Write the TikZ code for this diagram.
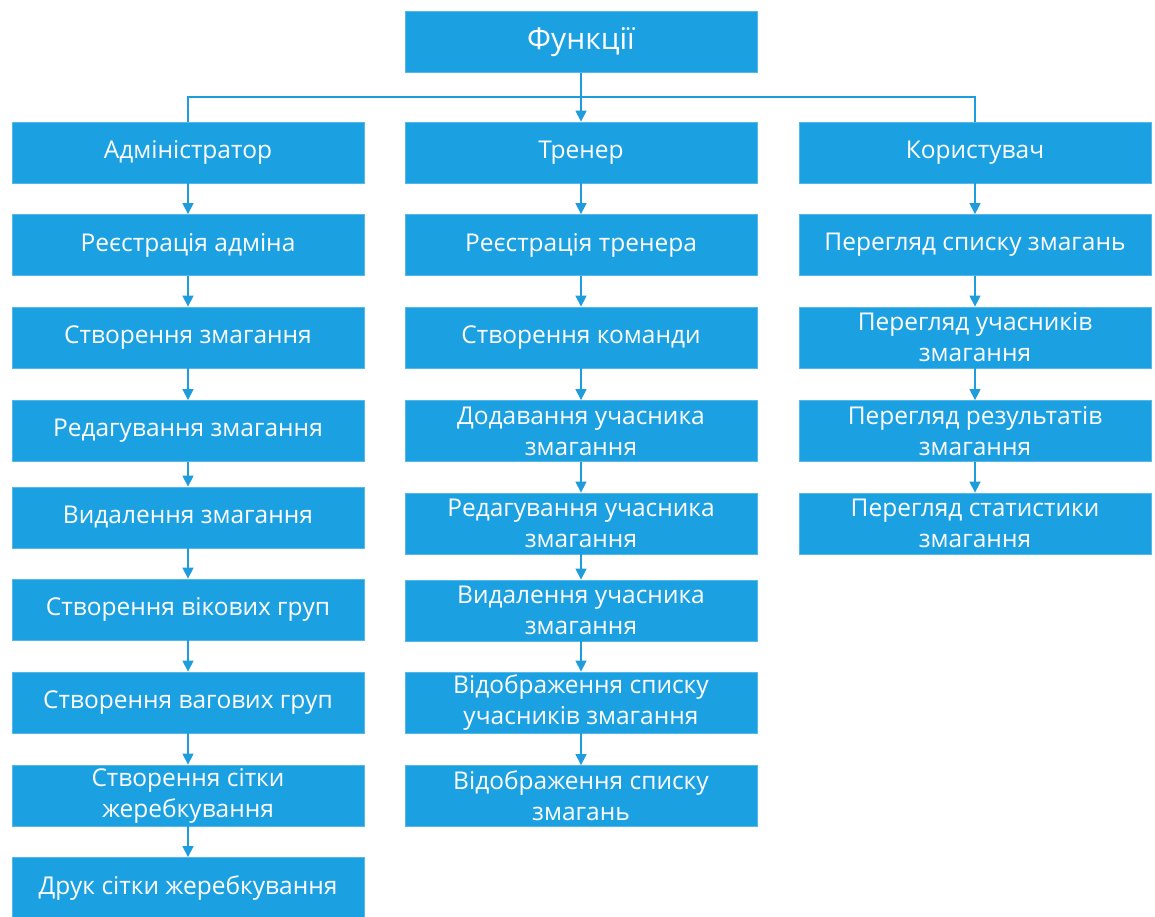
\documentclass[tikz,border=0pt]{standalone}
\usepackage{fontspec}
\setmainfont{Open Sans}
\usetikzlibrary{arrows.meta}
\definecolor{boxblue}{HTML}{1BA1E2}
\definecolor{lineblue}{HTML}{1E9CDC}
\begin{document}
\begin{tikzpicture}[x=1pt,y=-1pt,
  box/.style={fill=boxblue, draw=boxblue!75!white, line width=0.8pt,
    minimum width=352pt, minimum height=61pt, inner sep=0pt,
    text=white, align=center, font=\fontsize{24.5}{31}\selectfont},
  conn/.style={draw=lineblue, line width=1.4pt},
  arr/.style={conn, -{Triangle[width=11pt,length=11pt]}}]
\useasboundingbox (0,0) rectangle (1155,917);
% top
\node[box, font=\fontsize{30}{36}\selectfont] (top) at (581,42) {Функції};
% column 1
\node[box] (a0) at (188,152.5) {Адміністратор};
\node[box] (a1) at (188,245) {Реєстрація адміна};
\node[box] (a2) at (188,337.5) {Створення змагання};
\node[box] (a3) at (188,431) {Редагування змагання};
\node[box] (a4) at (188,517.5) {Видалення змагання};
\node[box] (a5) at (188,609.5) {Створення вікових груп};
\node[box] (a6) at (188,702.5) {Створення вагових груп};
\node[box] (a7) at (188,795.5) {Створення сітки\\жеребкування};
\node[box] (a8) at (188,888) {Друк сітки жеребкування};
% column 2
\node[box] (b0) at (581,152.5) {Тренер};
\node[box] (b1) at (581,245) {Реєстрація тренера};
\node[box] (b2) at (581,337.5) {Створення команди};
\node[box] (b3) at (581,431) {Додавання учасника\\змагання};
\node[box] (b4) at (581,523.5) {Редагування учасника\\змагання};
\node[box] (b5) at (581,610.5) {Видалення учасника\\змагання};
\node[box] (b6) at (581,702.5) {Відображення списку\\учасників змагання};
\node[box] (b7) at (581,796) {Відображення списку\\змагань};
% column 3
\node[box] (c0) at (975,152.5) {Користувач};
\node[box] (c1) at (975,245) {Перегляд списку змагань};
\node[box] (c2) at (975,337.5) {Перегляд учасників\\змагання};
\node[box] (c3) at (975,431) {Перегляд результатів\\змагання};
\node[box] (c4) at (975,523.5) {Перегляд статистики\\змагання};
% connectors from top
\coordinate (hr) at (975,97);
\draw[arr] (top.south) -- (b0.north);
\draw[conn] (a0.north) |- (hr) -- (c0.north);
% column chains
\foreach \i/\j in {0/1,1/2,2/3,3/4,4/5,5/6,6/7,7/8}
  \draw[arr] (a\i.south) -- (a\j.north);
\foreach \i/\j in {0/1,1/2,2/3,3/4,4/5,5/6,6/7}
  \draw[arr] (b\i.south) -- (b\j.north);
\foreach \i/\j in {0/1,1/2,2/3,3/4}
  \draw[arr] (c\i.south) -- (c\j.north);
\end{tikzpicture}
\end{document}
